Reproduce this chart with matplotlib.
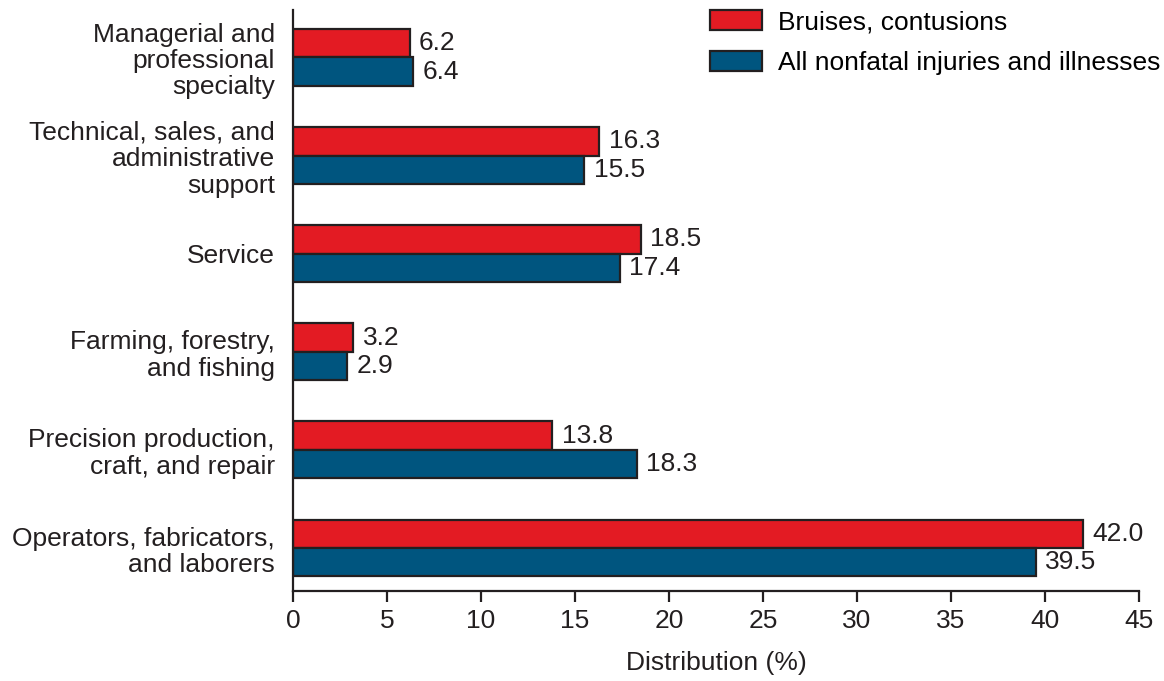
import matplotlib.pyplot as plt
import numpy as np

plt.rcParams['font.family'] = ['Liberation Sans', 'DejaVu Sans']

# occupation groups, top to bottom
categories = [
    'Managerial and\nprofessional\nspecialty',
    'Technical, sales, and\nadministrative\nsupport',
    'Service',
    'Farming, forestry,\nand fishing',
    'Precision production,\ncraft, and repair',
    'Operators, fabricators,\nand laborers',
]
bruises = [6.2, 16.3, 18.5, 3.2, 13.8, 42.0]
all_injuries = [6.4, 15.5, 17.4, 2.9, 18.3, 39.5]

red = '#e31b23'
blue = '#00557f'
edge = '#231f20'
fs = 19

fig = plt.figure(figsize=(11.64, 6.81), dpi=100)
ax = fig.add_axes([0.2517, 0.1322, 0.7268, 0.8531])

y = np.arange(len(categories))
h = 0.29
b1 = ax.barh(y - h / 2, bruises, height=h, color=red, edgecolor=edge,
             linewidth=1.6, label='Bruises, contusions')
b2 = ax.barh(y + h / 2, all_injuries, height=h, color=blue, edgecolor=edge,
             linewidth=1.6, label='All nonfatal injuries and illnesses')

for bars, vals in [(b1, bruises), (b2, all_injuries)]:
    for bar, v in zip(bars, vals):
        ax.text(bar.get_width() + 0.5, bar.get_y() + bar.get_height() / 2,
                f'{v:.1f}', va='center', ha='left', fontsize=fs, color=edge)

ax.set_xlim(0, 45)
ax.set_ylim(5.438, -0.484)
ax.set_xticks(range(0, 46, 5))
ax.set_yticks(y)
ax.set_yticklabels(categories, fontsize=fs, color=edge, linespacing=1.12)
ax.tick_params(axis='y', length=0, pad=13)
ax.tick_params(axis='x', length=8, width=1.6, direction='out', labelsize=fs,
               colors=edge, pad=5)
for lab in ax.get_yticklabels():
    lab.set_horizontalalignment('right')

for s in ['top', 'right']:
    ax.spines[s].set_visible(False)
for s in ['left', 'bottom']:
    ax.spines[s].set_linewidth(1.6)
    ax.spines[s].set_color(edge)

ax.set_xlabel('Distribution (%)', fontsize=fs, color=edge, labelpad=13)

ax.legend(loc='upper left', bbox_to_anchor=(0.493, 1.0), frameon=False,
          fontsize=fs, handlelength=1.97, handleheight=0.76, handletextpad=0.6,
          labelspacing=0.65, borderaxespad=0, borderpad=0)

fig.savefig('out.png', dpi=100)
